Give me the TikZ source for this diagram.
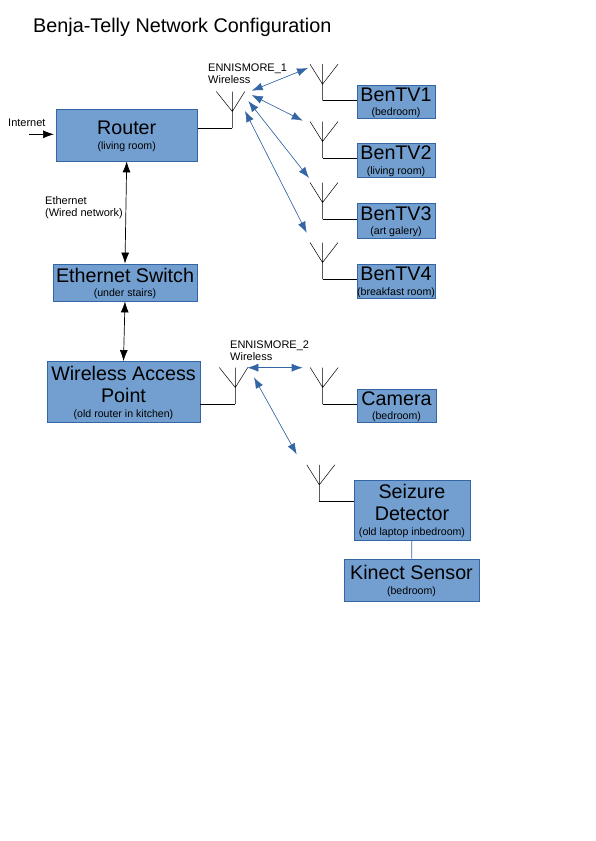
\documentclass[tikz,border=0pt]{standalone}
\usepackage{fontspec}
\setmainfont{Liberation Sans}
\usetikzlibrary{arrows.meta}
\definecolor{box-fill}{HTML}{729FCF}
\definecolor{box-border}{HTML}{3465A4}
\tikzset{
  net-box/.style={
    draw=box-border, fill=box-fill, line width=0.8pt, align=center,
    inner sep=0pt, font=\fontsize{19.7}{22}\selectfont
  },
  net-label/.style={anchor=west, align=left, inner sep=0pt, font=\fontsize{11}{12}\selectfont},
  wired-link/.style={{Latex[length=11pt,width=8pt]}-{Latex[length=11pt,width=8pt]}, line width=0.7pt},
  feed-link/.style={line width=0.8pt},
  wifi-link/.style={{Latex[length=11pt,width=8pt]}-{Latex[length=11pt,width=8pt]}, draw=box-border, fill=box-border, line width=0.6pt},
  hub-antenna/.pic={
    \draw[line width=0.5pt] (0,0) -- (0,-36.5) (-16,-36.5) -- (0,-16.5) -- (12.5,-36.5);
  },
  end-antenna/.pic={
    \draw[line width=0.5pt] (0,0) -- (0,-36.5) (-12.5,-36.5) -- (0,-16.5) -- (15.5,-36.5);
  }
}
\newcommand{\roomtext}[1]{\\[-7.5pt]\raisebox{0pt}[\height][-1.5pt]{\fontsize{10.6}{12}\selectfont #1}}

\begin{document}
\begin{tikzpicture}[x=1pt, y=-1pt]
  \useasboundingbox (0,0) rectangle (595,841);
  \node[anchor=west, inner sep=0pt, font=\fontsize{19.8}{22}\selectfont] (title) at (33,27) {Benja-Telly Network Configuration};

  \node[net-box, minimum width=141.5pt, minimum height=51.5pt] (router) at (126.7,135.2) {Router\roomtext{(living room)}};
  \node[net-box, minimum width=144pt, minimum height=37pt]     (switch) at (125,282.5) {Ethernet Switch\roomtext{(under stairs)}};
  \node[net-box, minimum width=153pt, minimum height=60.5pt]   (wap)    at (123.5,391.7) {Wireless Access\\Point\roomtext{(old router in kitchen)}};

  \node[net-box, minimum width=78pt, minimum height=33pt]   (tv1)      at (396,101.5) {BenTV1\roomtext{(bedroom)}};
  \node[net-box, minimum width=78pt, minimum height=34pt]   (tv2)      at (396,160) {BenTV2\roomtext{(living room)}};
  \node[net-box, minimum width=78pt, minimum height=35pt]   (tv3)      at (396,220.5) {BenTV3\roomtext{(art galery)}};
  \node[net-box, minimum width=78pt, minimum height=34pt]   (tv4)      at (396,281) {BenTV4\roomtext{(breakfast room)}};
  \node[net-box, minimum width=79pt, minimum height=33pt]   (camera)   at (396.5,405.5) {Camera\roomtext{(bedroom)}};
  \node[net-box, minimum width=116pt, minimum height=60pt]  (detector) at (412,510) {Seizure\\Detector\roomtext{(old laptop inbedroom)}};
  \node[net-box, minimum width=135pt, minimum height=42pt]  (kinect)   at (411.5,580) {Kinect Sensor\roomtext{(bedroom)}};

  \node[net-label] (internet-label) at (8,122.5) {Internet};
  \node[net-label] (wired-label)    at (45,207.5) {Ethernet\\(Wired network)};
  \node[net-label] (net1-label)     at (208,73.5) {ENNISMORE\_1\\Wireless};
  \node[net-label] (net2-label)     at (230,350.5) {ENNISMORE\_2\\Wireless};

  % antenna feet
  \coordinate (ant1)     at (232.3,128);
  \coordinate (ant2)     at (235.3,404);
  \coordinate (ant-tv1)  at (322.5,100.7);
  \coordinate (ant-tv2)  at (322.5,158);
  \coordinate (ant-tv3)  at (322.5,219);
  \coordinate (ant-tv4)  at (322.5,279);
  \coordinate (ant-cam)  at (322.7,404);
  \coordinate (ant-det)  at (319.3,501.3);
  \pic at (ant1) {hub-antenna};
  \pic at (ant2) {hub-antenna};
  \pic at (ant-tv1) {end-antenna};
  \pic at (ant-tv2) {end-antenna};
  \pic at (ant-tv3) {end-antenna};
  \pic at (ant-tv4) {end-antenna};
  \pic at (ant-cam) {end-antenna};
  \pic at (ant-det) {end-antenna};

  \draw[feed-link] (router.east |- ant1) -- (ant1);
  \draw[feed-link] (wap.east |- ant2) -- (ant2);
  \draw[feed-link] (ant-tv1) -- (tv1.west |- ant-tv1);
  \draw[feed-link] (ant-tv2) -- (tv2.west |- ant-tv2);
  \draw[feed-link] (ant-tv3) -- (tv3.west |- ant-tv3);
  \draw[feed-link] (ant-tv4) -- (tv4.west |- ant-tv4);
  \draw[feed-link] (ant-cam) -- (camera.west |- ant-cam);
  \draw[feed-link] (ant-det) -- (detector.west |- ant-det);

  \coordinate (internet) at (29,134.3);
  \coordinate (internet-in) at (54,134.3);
  \draw[line width=0.7pt, -{Latex[length=11pt,width=8pt]}] (internet) -- (internet-in);
  \draw[wired-link] (router.south) -- (switch.north);
  \draw[wired-link] (switch.south) -- (wap.north);
  \draw[draw=box-border, line width=0.8pt] (detector) -- (kinect);

  % radio links, free at both ends
  \coordinate (a1-tv1) at (251.7,90.7);   \coordinate (tv1-in) at (308,68);
  \coordinate (a1-tv2) at (251.7,95);     \coordinate (tv2-in) at (302.7,120.7);
  \coordinate (a1-tv3) at (248.3,101);    \coordinate (tv3-in) at (309,178);
  \coordinate (a1-tv4) at (245,111);      \coordinate (tv4-in) at (306.7,232.7);
  \coordinate (a2-cam) at (247.3,367.7);  \coordinate (cam-in) at (302.7,367.7);
  \coordinate (a2-det) at (254,377.3);    \coordinate (det-in) at (296.7,454.3);
  \draw[wifi-link] (a1-tv1) -- (tv1-in);
  \draw[wifi-link] (a1-tv2) -- (tv2-in);
  \draw[wifi-link] (a1-tv3) -- (tv3-in);
  \draw[wifi-link] (a1-tv4) -- (tv4-in);
  \draw[wifi-link] (a2-cam) -- (cam-in);
  \draw[wifi-link] (a2-det) -- (det-in);
\end{tikzpicture}
\end{document}
